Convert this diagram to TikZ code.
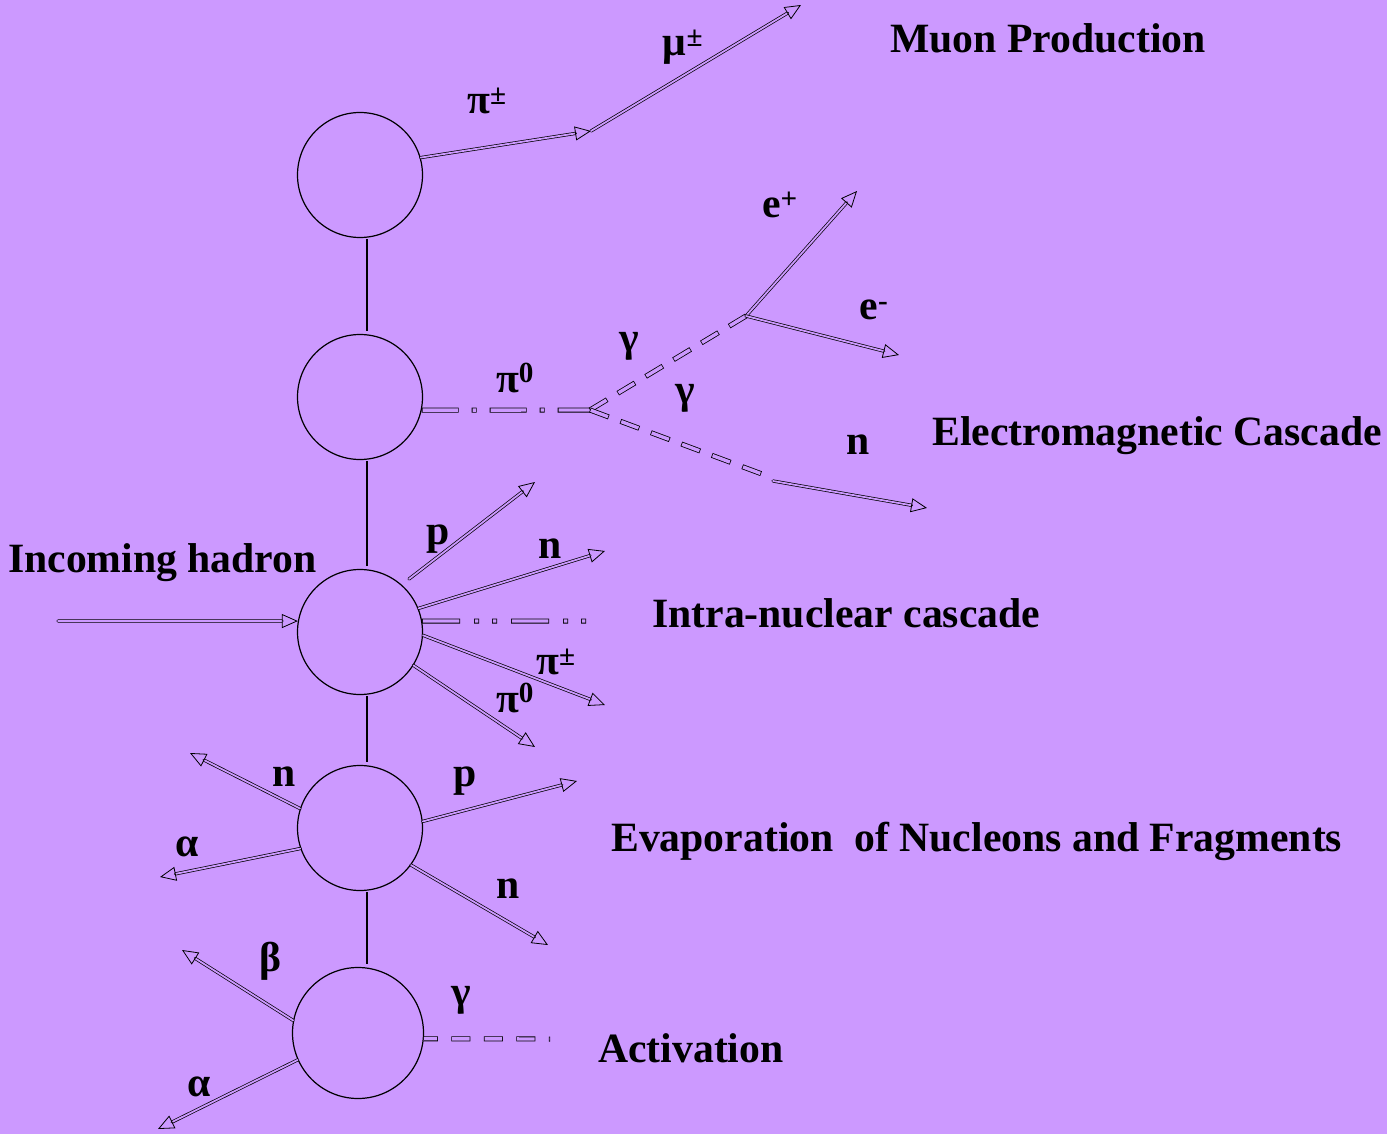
\documentclass[tikz,border=0pt]{standalone}
\usepackage{fontspec}
\setmainfont{Liberation Serif}
\usetikzlibrary{arrows.meta}
\definecolor{bg}{RGB}{204,153,255}
\begin{document}
\begin{tikzpicture}[x=1pt,y=-1pt,
  ball/.style={circle, draw=black, line width=1.2pt, minimum size=125pt, inner sep=0pt},
  vline/.style={draw=black, line width=1.2pt, shorten <=1pt, shorten >=3pt},
  arr/.style={draw=black, double=bg, line width=0.7pt, double distance=1.8pt, line cap=round,
    -{Triangle[open, length=16pt, width=14pt, line width=0.8pt]}},
  gdash/.style={draw=bg, line width=3.4pt, dash pattern=on 18.4pt off 14.1pt, dash phase=31.7pt,
    preaction={draw=black, line width=5pt, dash pattern=on 20pt off 12.5pt, dash phase=0pt}},
  gdashA/.style={draw=bg, line width=3.4pt, dash pattern=on 17.4pt off 15.1pt, dash phase=4.2pt,
    preaction={draw=black, line width=5pt, dash pattern=on 19pt off 13.5pt, dash phase=5pt}},
  dashdot/.style={draw=bg, line width=3.4pt, dash pattern=on 35.4pt off 14.6pt on 3.4pt off 14.6pt, dash phase=67.2pt,
    preaction={draw=black, line width=5pt, dash pattern=on 37pt off 13pt on 5pt off 13pt, dash phase=0pt}},
  dashdotdot/.style={draw=bg, line width=3.4pt, dash pattern=on 36.4pt off 15.6pt on 3.4pt off 14.6pt on 3.4pt off 15.6pt, dash phase=88.2pt,
    preaction={draw=black, line width=5pt, dash pattern=on 38pt off 14pt on 5pt off 13pt on 5pt off 14pt, dash phase=0pt}},
  lab/.style={inner sep=0pt, font=\fontsize{41.7}{48}\selectfont\bfseries},
  title/.style={lab, anchor=base west}
]
\useasboundingbox (0,0) rectangle (1387,1134);
\fill[bg] (0,0) rectangle (1387,1134);

% circles
\node[ball] (c1) at (360,175) {};
\node[ball] (c2) at (360,397) {};
\node[ball] (c3) at (360,632) {};
\node[ball] (c4) at (360,828) {};
\node[ball, minimum size=131pt] (c5) at (358,1033) {};

% vertical links
\draw[vline] ([xshift=7pt]c1.south) -- ([xshift=7pt]c2.north);
\draw[vline] ([xshift=7pt]c2.south) -- ([xshift=7pt]c3.north);
\draw[vline] ([xshift=7pt]c3.south) -- ([xshift=7pt]c4.north);
\draw[vline] ([xshift=7pt]c4.south) -- ([xshift=9pt]c5.north);

% muon production
\coordinate (mu1) at (591,131);
\coordinate (mu2) at (801,5);
\draw[arr] (c1.16) -- (mu1);
\draw[arr] (mu1) -- (mu2);

% electromagnetic cascade
\coordinate (g0) at (590,410);
\coordinate (v1) at (746,316);
\coordinate (g2) at (762,474);
\coordinate (ep) at (857,191);
\coordinate (em) at (899,355);
\coordinate (ns) at (773,481);
\coordinate (nt) at (927,508);
\draw[dashdot] (c2.-12) -- (g0);
\draw[gdash] (g0) -- (v1);
\draw[gdash] (g0) -- (g2);
\draw[arr] (v1) -- (ep);
\draw[arr] (v1) -- (em);
\draw[arr] (ns) -- (nt);

% intra-nuclear cascade
\coordinate (inc) at (58,621);
\coordinate (ps) at (409,579);
\coordinate (pt) at (535,482);
\coordinate (n3) at (605,551);
\coordinate (dd) at (588,621);
\coordinate (pic) at (605,705);
\coordinate (pi0) at (535,747);
\draw[arr] (inc) -- (c3.170);
\draw[arr] (ps) -- (pt);
\draw[arr] (c3.22) -- (n3);
\draw[dashdotdot] (c3.10) -- (dd);
\draw[arr] (c3.-3) -- (pic);
\draw[arr] (c3.-32) -- (pi0);

% evaporation
\coordinate (e4n) at (190,753);
\coordinate (e4a) at (160,877);
\coordinate (e4p) at (577,781);
\coordinate (e4m) at (548,945);
\draw[arr] (c4.162) -- (e4n);
\draw[arr] (c4.199) -- (e4a);
\draw[arr] (c4.6) -- (e4p);
\draw[arr] (c4.-36) -- (e4m);

% activation
\coordinate (e5b) at (182,950);
\coordinate (e5a) at (158,1129);
\coordinate (e5g) at (550,1039);
\draw[arr] (c5.169) -- (e5b);
\draw[arr] (c5.204) -- (e5a);
\draw[gdashA] (c5.-5) -- (e5g);

% particle labels
\node[lab] (lmu) at (683,47) {μ\textsuperscript{±}};
\node[lab] (lpi1) at (487,101) {π\textsuperscript{±}};
\node[lab] (lep) at (780,205) {e\textsuperscript{+}};
\node[lab] (lem) at (874,310) {e\textsuperscript{-}};
\node[lab] (lg1) at (629,346) {γ};
\node[lab] (lpi0) at (515,378) {π\textsuperscript{0}};
\node[lab] (lg2) at (685,398) {γ};
\node[lab] (ln1) at (858,445) {n};
\node[lab] (lp3) at (438,539) {p};
\node[lab] (ln3) at (550,549) {n};
\node[lab] (lpc3) at (556,662) {π\textsuperscript{±}};
\node[lab] (lp03) at (515,698) {π\textsuperscript{0}};
\node[lab] (ln4) at (284,777) {n};
\node[lab] (lp4) at (465,781) {p};
\node[lab] (la4) at (187,847) {α};
\node[lab] (lm4) at (508,889) {n};
\node[lab] (lb5) at (270,961) {β};
\node[lab] (lg5) at (461,1000) {γ};
\node[lab] (la5) at (199,1087) {α};

% titles
\node[title] (tmu) at (890,53) {Muon Production};
\node[title] (tem) at (932,445) {Electromagnetic Cascade};
\node[title] (tin) at (8,572) {Incoming hadron};
\node[title] (tic) at (652,627) {Intra-nuclear cascade};
\node[title] (tev) at (611,851) {Evaporation\ \ of Nucleons and Fragments};
\node[title] (tac) at (598,1062) {Activation};
\end{tikzpicture}
\end{document}
